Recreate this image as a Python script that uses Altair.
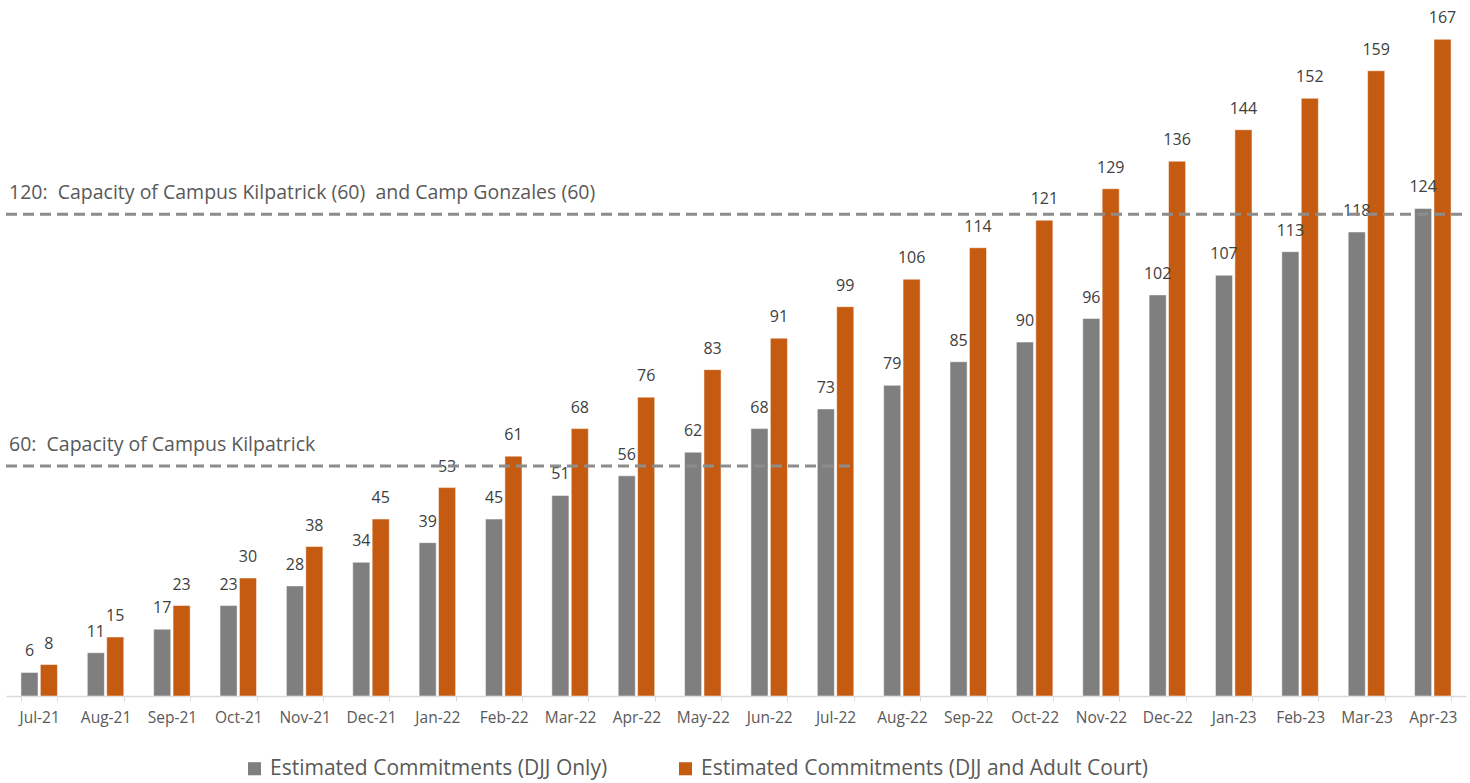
import altair as alt
import pandas as pd

months = ["Jul-21", "Aug-21", "Sep-21", "Oct-21", "Nov-21", "Dec-21", "Jan-22", "Feb-22",
          "Mar-22", "Apr-22", "May-22", "Jun-22", "Jul-22", "Aug-22", "Sep-22", "Oct-22",
          "Nov-22", "Dec-22", "Jan-23", "Feb-23", "Mar-23", "Apr-23"]
djj_only = [6, 11, 17, 23, 28, 34, 39, 45, 51, 56, 62, 68, 73, 79, 85, 90, 96, 102, 107, 113, 118, 124]
djj_adult = [8, 15, 23, 30, 38, 45, 53, 61, 68, 76, 83, 91, 99, 106, 114, 121, 129, 136, 144, 152, 159, 167]
series_names = ["Estimated Commitments (DJJ Only)", "Estimated Commitments (DJJ and Adult Court)"]
series_colors = ["#7f7f7f", "#c55a11"]

rows = []
for m, a, b in zip(months, djj_only, djj_adult):
    rows.append({"month": m, "series": series_names[0], "value": a})
    rows.append({"month": m, "series": series_names[1], "value": b})
df = pd.DataFrame(rows)

NB = "\u00a0"
ref_lines = pd.DataFrame({
    "y": [122.5, 58.5],
    "label": [f"120:{NB} Capacity of Campus Kilpatrick (60){NB} and Camp Gonzales (60)",
              f"60:{NB} Capacity of Campus Kilpatrick"],
})

FONT = "Open Sans"
W, H = 1460, 696

x_enc = alt.X("month:N", sort=months, title=None,
              scale=alt.Scale(paddingInner=0.45, paddingOuter=0.225),
              axis=alt.Axis(labelAngle=0, labelFont=FONT, labelFontSize=15.5, labelColor="#595959",
                            domainColor="#d9d9d9", tickColor="#d9d9d9", tickBand="extent",
                            tickSize=5, labelPadding=9, domainWidth=1.5))
xoff = alt.XOffset("series:N", sort=series_names, scale=alt.Scale(paddingInner=0.12))
y_enc = alt.Y("value:Q", scale=alt.Scale(domain=[0, 177], nice=False), axis=None, title=None)

bars = alt.Chart(df).mark_bar(stroke="white", strokeWidth=0.5).encode(
    x=x_enc, xOffset=xoff, y=y_enc,
    color=alt.Color("series:N", sort=series_names,
                    scale=alt.Scale(domain=series_names, range=series_colors),
                    legend=alt.Legend(title=None, orient="none", direction="horizontal",
                                      legendX=238, legendY=758, symbolType="square",
                                      symbolSize=170, symbolStrokeWidth=0, labelFont=FONT,
                                      labelFontSize=21, labelColor="#595959", labelLimit=0,
                                      columnPadding=67, labelOffset=5)),
)

labels = alt.Chart(df).mark_text(baseline="middle", dy=-21, font=FONT, fontSize=16,
                                 color="#404040").encode(
    x=alt.X("month:N", sort=months), xOffset=xoff, y="value:Q", text="value:Q")

rule_top = alt.Chart(ref_lines.iloc[:1]).mark_rule(color="#8c8c8c", strokeWidth=3, strokeDash=[11, 6]).encode(
    y="y:Q", x=alt.value(0), x2=alt.value(W))
rule_low = alt.Chart(ref_lines.iloc[1:]).mark_rule(color="#8c8c8c", strokeWidth=3, strokeDash=[11, 6]).encode(
    y="y:Q", x=alt.value(0), x2=alt.value(849))

ann = alt.Chart(ref_lines).mark_text(align="left", baseline="middle", dy=-21, font=FONT,
                                     fontSize=19.5, color="#595959").encode(
    x=alt.value(3), y="y:Q", text="label:N")

chart = alt.layer(bars, labels, rule_top, rule_low, ann).properties(
    width=W, height=H,
    autosize=alt.AutoSizeParams(type="none"),
    padding={"left": 6, "top": 0, "right": 4, "bottom": 87},
).configure_view(stroke=None)

chart.save("out.html", embed_options={"renderer": "svg", "actions": False})
